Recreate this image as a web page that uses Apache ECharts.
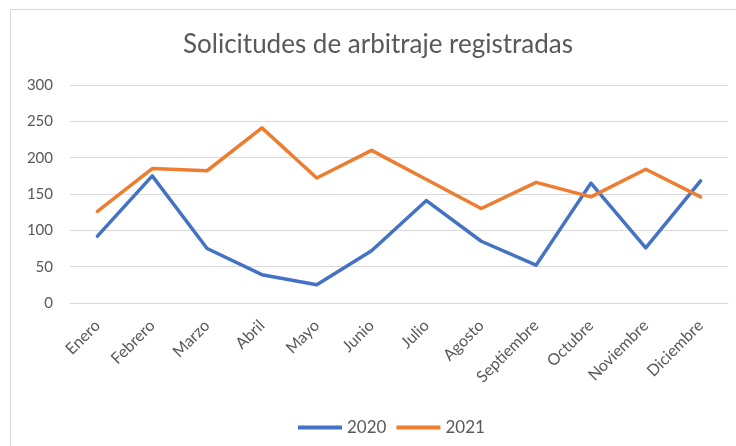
<!DOCTYPE html>
<html>
<head>
<meta charset="utf-8">
<script src="https://cdn.jsdelivr.net/npm/echarts@6/dist/echarts.min.js"></script>
<style>
html,body{margin:0;padding:0;background:#fff;}
#main{width:736px;height:446px;}
</style>
</head>
<body>
<div id="main"></div>
<script>
const titleText = 'Solicitudes de arbitraje registradas';
const months = ['Enero','Febrero','Marzo','Abril','Mayo','Junio','Julio','Agosto','Septiembre','Octubre','Noviembre','Diciembre'];
const seriesNames = ['2020','2021'];
const values2020 = [92, 175, 75, 39, 25, 72, 141, 85, 52, 165, 76, 168];
const values2021 = [126, 185, 182, 241, 172, 210, 170, 130, 166, 146, 184, 146];
const yTicks = {min: 0, max: 300, interval: 50};

const FONT = 'Lato';
const chart = echarts.init(document.getElementById('main'), null, {renderer: 'canvas'});
chart.setOption({
  animation: false,
  backgroundColor: '#ffffff',
  textStyle: {fontFamily: FONT},
  graphic: [
    {type: 'rect', shape: {x: 10.5, y: 9.5, width: 800, height: 500}, style: {fill: 'none', stroke: '#D9D9D9', lineWidth: 1}, silent: true},
    {type: 'text', x: 378, y: 45, style: {text: titleText, fill: '#595959', font: '26px ' + FONT, align: 'center', verticalAlign: 'middle'}}
  ],
  grid: {left: 70, right: 8, top: 85, bottom: 143},
  legend: {
    left: 293, top: 414,
    itemWidth: 44, itemHeight: 4, itemGap: 10,
    icon: 'rect',
    textStyle: {color: '#595959', fontSize: 17, fontFamily: FONT},
    data: seriesNames
  },
  xAxis: {
    type: 'category',
    data: months,
    boundaryGap: true,
    axisLine: {show: true, lineStyle: {color: '#D9D9D9', width: 1}},
    axisTick: {show: false},
    axisLabel: {rotate: 45, margin: 20, color: '#595959', fontSize: 16, fontFamily: FONT, interval: 0}
  },
  yAxis: {
    type: 'value',
    min: yTicks.min, max: yTicks.max, interval: yTicks.interval,
    axisLine: {show: false},
    axisTick: {show: false},
    splitLine: {lineStyle: {color: '#D9D9D9', width: 1}},
    axisLabel: {margin: 17, color: '#595959', fontSize: 15, fontFamily: FONT}
  },
  series: [
    {name: seriesNames[0], type: 'line', data: values2020, symbol: 'none', color: '#4472C4',
     lineStyle: {width: 3.5, color: '#4472C4', join: 'round', cap: 'round'}},
    {name: seriesNames[1], type: 'line', data: values2021, symbol: 'none', color: '#ED7D31',
     lineStyle: {width: 3.5, color: '#ED7D31', join: 'round', cap: 'round'}}
  ]
});
</script>
</body>
</html>
